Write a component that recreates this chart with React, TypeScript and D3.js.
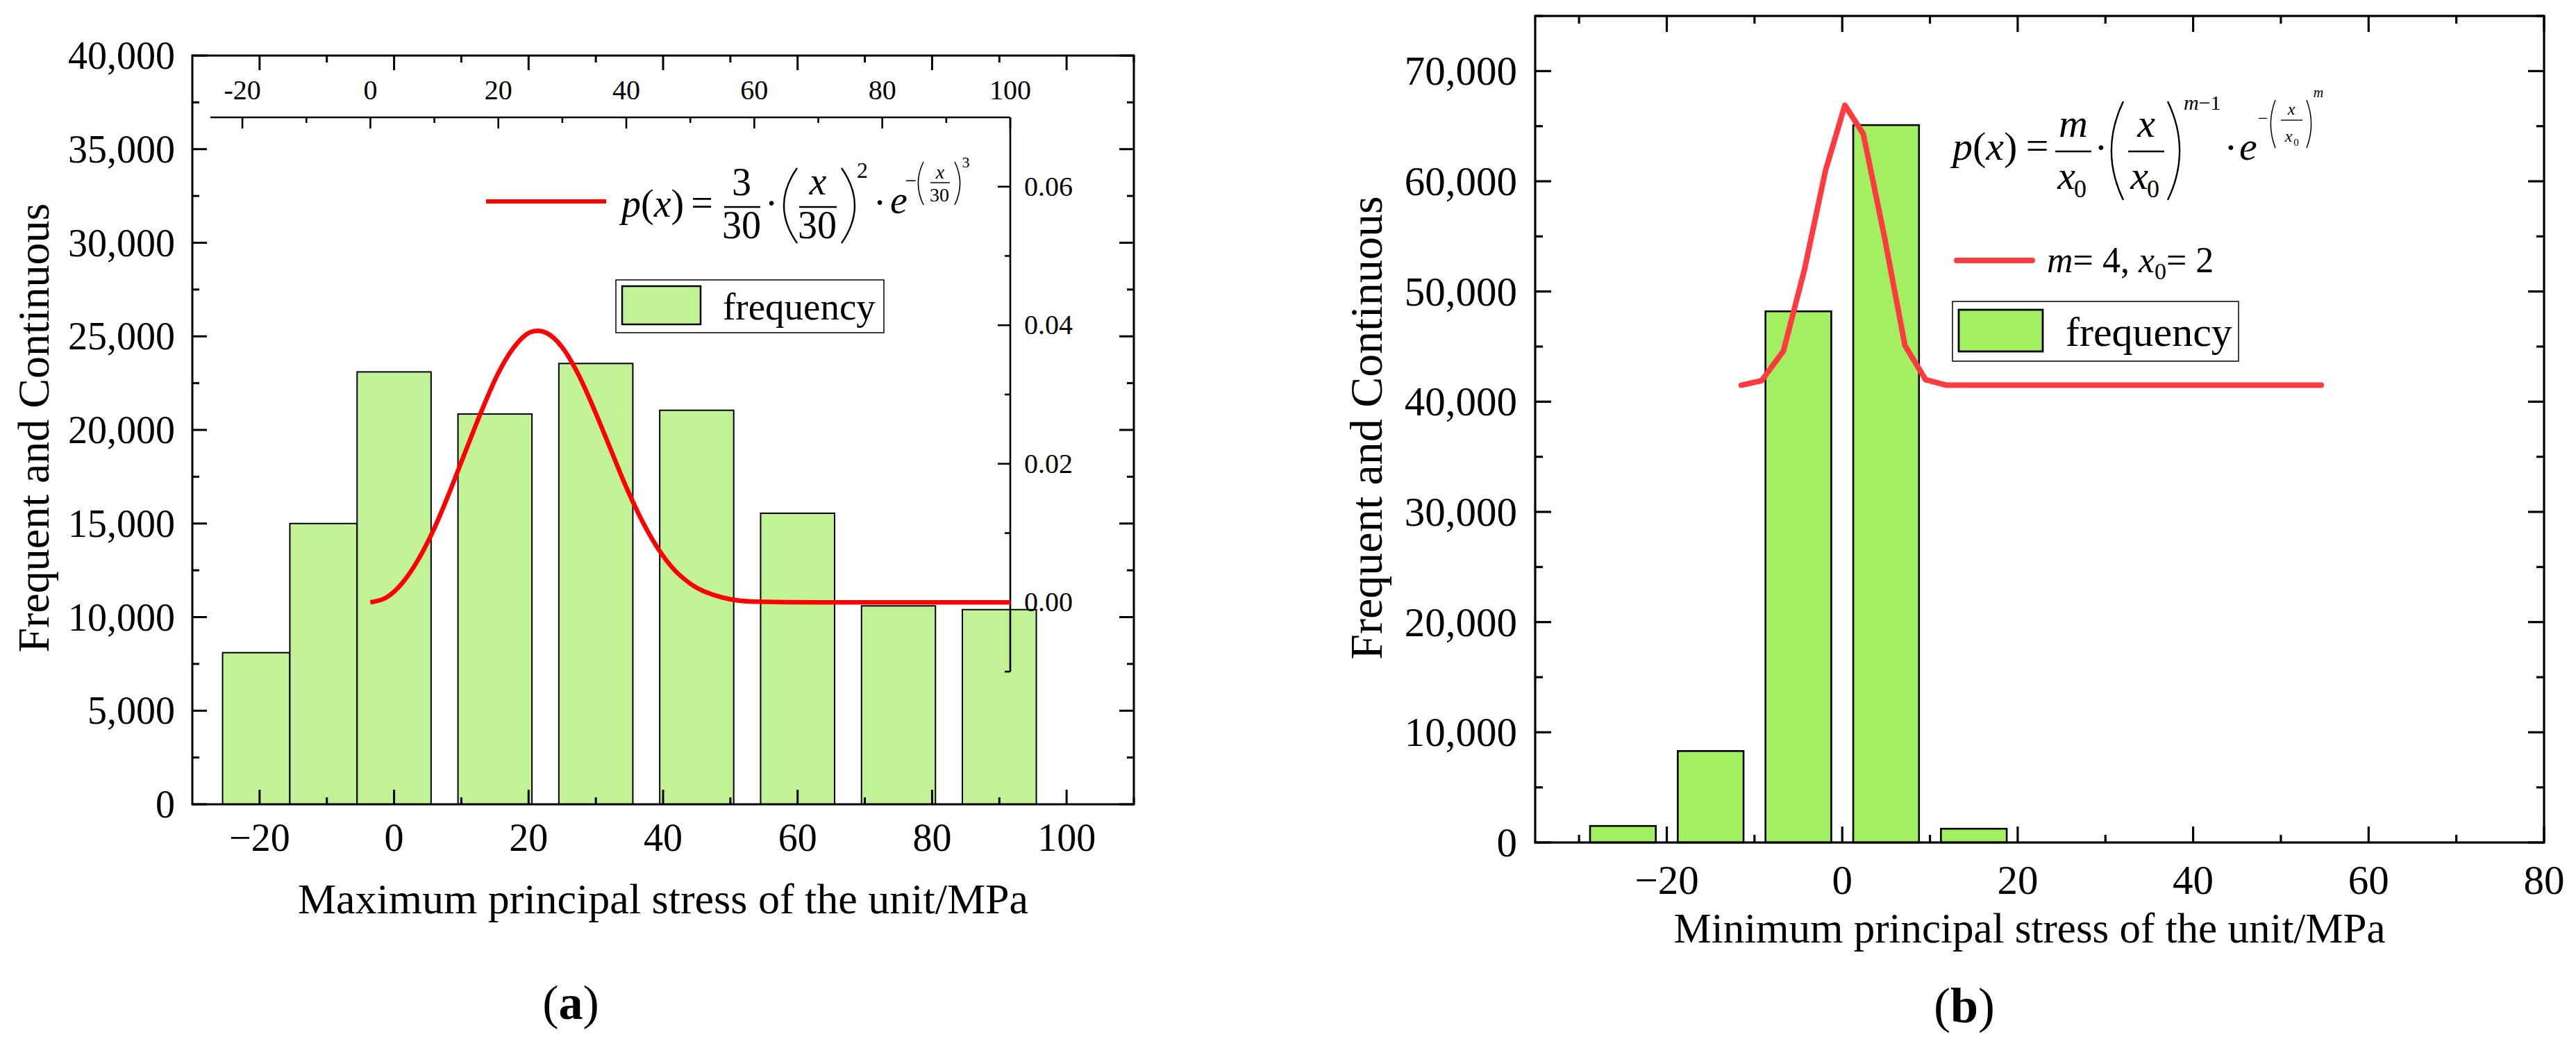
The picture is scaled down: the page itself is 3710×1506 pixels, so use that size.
import React from "react";
import * as d3 from "d3";

// ---------- panel (a): maximum principal stress ----------
const maxBinStart = [-25.5, -15.5, -5.5, 9.5, 24.5, 39.5, 54.5, 69.5, 84.5];
const maxBinEnd = [-15.5, -5.5, 5.5, 20.5, 35.5, 50.5, 65.5, 80.5, 95.5];
const maxFreq = [8100, 15000, 23100, 20850, 23550, 21050, 15550, 10600, 10400];
const maxCurveX = [0, 2.5, 5, 7.5, 10, 12.5, 15, 17.5, 20, 22.5, 25, 26.2, 27.5, 30, 32.5, 35, 37.5, 40, 42.5, 45, 47.5, 50, 55, 60, 70, 80, 90, 100];
const maxCurveP = [0, 0.0007, 0.0028, 0.0062, 0.0107, 0.0162, 0.0221, 0.0279, 0.0331, 0.0369, 0.039, 0.0392, 0.0389, 0.0368, 0.0329, 0.0278, 0.0222, 0.0166, 0.0117, 0.0077, 0.0047, 0.0027, 0.0007, 0.0001, 0, 0, 0, 0];
const maxXTicks = [-20, 0, 20, 40, 60, 80, 100];
const maxYTicks = [0, 5000, 10000, 15000, 20000, 25000, 30000, 35000, 40000];
const maxTopTicks = [-20, 0, 20, 40, 60, 80, 100];
const maxPTicks = [0, 0.02, 0.04, 0.06];

// ---------- panel (b): minimum principal stress ----------
const minBinCenter = [-25, -15, -5, 5, 15];
const minBinWidth = 7.5;
const minFreq = [1500, 8300, 48200, 65100, 1250];
const minCurveX = [-11.5, -9.2, -6.7, -4.3, -1.9, 0.3, 2.4, 4.8, 7.15, 9.5, 11.9, 54.6];
const minCurveY = [41500, 41900, 44600, 52000, 61000, 66900, 64300, 55000, 45100, 42000, 41500, 41500];
const minXTicks = [-20, 0, 20, 40, 60, 80];
const minYTicks = [0, 10000, 20000, 30000, 40000, 50000, 60000, 70000];

const FONT = "'Liberation Serif', 'Times New Roman', serif";
const fmtK = d3.format(",");
const fmtX = d3.format("d");
const fmtP = d3.format(".2f");

const steps = (a: number, b: number, s: number) => d3.range(a, b + s / 1000, s);

// inward ticks on one side of a box
function tickLines(scale: any, values: number[], side: string, pos: number, len: number, w: number) {
  return values.map((v, i) => {
    const p = scale(v);
    let a;
    if (side === "bottom") a = { x1: p, x2: p, y1: pos, y2: pos - len };
    else if (side === "top") a = { x1: p, x2: p, y1: pos, y2: pos + len };
    else if (side === "left") a = { x1: pos, x2: pos + len, y1: p, y2: p };
    else a = { x1: pos, x2: pos - len, y1: p, y2: p };
    return <line key={side + i} {...a} stroke="#000" strokeWidth={w} />;
  });
}

function Paren({ x0, x1, y0, y1, right = false, w = 2.4 }) {
  const mid = (y0 + y1) / 2;
  const d = right
    ? `M${x0},${y0} Q${x1 + (x1 - x0) * 0.9},${mid} ${x0},${y1}`
    : `M${x1},${y0} Q${x0 - (x1 - x0) * 0.9},${mid} ${x1},${y1}`;
  return <path d={d} fill="none" stroke="#000" strokeWidth={w} />;
}

function PanelA() {
  const L = 277, R = 1633, T = 80, B = 1158;
  const x = d3.scaleLinear().domain([-30, 110]).range([L, R]);
  const y = d3.scaleLinear().domain([0, 40000]).range([B, T]);
  const xi = d3.scaleLinear().domain([-25, 100]).range([303, 1455]);
  const yi = d3.scaleLinear().domain([-0.01, 0.07]).range([967, 169]);
  const innerTop = 169, innerRight = 1455;

  const line = d3.line<number>()
    .x((_, i) => xi(maxCurveX[i]))
    .y((p) => yi(p))
    .curve(d3.curveMonotoneX);

  const xMajor = maxXTicks;
  const xMinor = steps(-10, 110, 20);
  const yMinor = steps(2500, 37500, 5000);

  return (
    <g fontFamily={FONT}>
      {maxFreq.map((v, i) => (
        <rect key={i} x={x(maxBinStart[i])} y={y(v)} width={x(maxBinEnd[i]) - x(maxBinStart[i])}
          height={y(0) - y(v)} fill="#c2f296" stroke="#000" strokeWidth={2} />
      ))}

      {/* inner axes for the density curve */}
      <line x1={303} x2={innerRight} y1={innerTop} y2={innerTop} stroke="#000" strokeWidth={2.6} />
      <line x1={innerRight} x2={innerRight} y1={innerTop} y2={967} stroke="#000" strokeWidth={2.6} />
      {tickLines(xi, maxTopTicks, "top", innerTop, 16, 2.6)}
      {tickLines(xi, steps(-10, 90, 20), "top", innerTop, 8, 2.6)}
      {tickLines(yi, maxPTicks, "right", innerRight, 18, 2.6)}
      {tickLines(yi, [-0.01, 0.01, 0.03, 0.05], "right", innerRight, 8, 2.6)}
      {maxTopTicks.map((v) => (
        <text key={"it" + v} x={xi(v)} y={143} fontSize={40} textAnchor="middle">{`${v}`}</text>
      ))}
      {maxPTicks.map((v) => (
        <text key={"ip" + v} x={1475} y={yi(v) + 13} fontSize={40}>{fmtP(v)}</text>
      ))}

      <path d={line(maxCurveP) || ""} fill="none" stroke="#ff0000" strokeWidth={6.5} />

      {/* frame */}
      <rect x={L} y={T} width={R - L} height={B - T} fill="none" stroke="#000" strokeWidth={3} />
      {tickLines(x, xMajor, "bottom", B, 21, 3)}
      {tickLines(x, xMinor, "bottom", B, 10, 3)}
      {tickLines(x, xMajor, "top", T, 21, 3)}
      {tickLines(x, xMinor, "top", T, 10, 3)}
      {tickLines(y, maxYTicks, "left", L, 21, 3)}
      {tickLines(y, yMinor, "left", L, 10, 3)}
      {tickLines(y, maxYTicks, "right", R, 21, 3)}
      {tickLines(y, yMinor, "right", R, 10, 3)}

      {xMajor.map((v) => (
        <text key={"x" + v} x={x(v)} y={1225} fontSize={56} textAnchor="middle">{fmtX(v)}</text>
      ))}
      {maxYTicks.map((v) => (
        <text key={"y" + v} x={252} y={y(v) + 19} fontSize={56} textAnchor="end">{fmtK(v)}</text>
      ))}

      <text x={955} y={1315} fontSize={62} textAnchor="middle">Maximum principal stress of the unit/MPa</text>
      <text transform="translate(70,616) rotate(-90)" fontSize={64} textAnchor="middle">Frequent and Continuous</text>
      <text x={822} y={1467} fontSize={70} textAnchor="middle">(<tspan fontWeight="bold">a</tspan>)</text>

      {/* legend: curve */}
      <line x1={700} x2={873} y1={290} y2={290} stroke="#ff0000" strokeWidth={6} />
      <g fontSize={56}>
        <text x={895} y={312}><tspan fontStyle="italic">p</tspan>(<tspan fontStyle="italic">x</tspan>)</text>
        <text x={1011} y={311} textAnchor="middle">=</text>
        <text x={1068} y={281} textAnchor="middle">3</text>
        <line x1={1043} x2={1095} y1={298} y2={298} stroke="#000" strokeWidth={2.4} />
        <text x={1068} y={343} textAnchor="middle">30</text>
        <text x={1111} y={312} textAnchor="middle">·</text>
        <Paren x0={1128} x1={1148} y0={242} y1={350} />
        <text x={1178} y={280} textAnchor="middle" fontStyle="italic">x</text>
        <line x1={1151} x2={1205} y1={298} y2={298} stroke="#000" strokeWidth={2.4} />
        <text x={1177} y={343} textAnchor="middle">30</text>
        <Paren x0={1212} x1={1232} y0={242} y1={350} right />
        <text x={1242} y={256} fontSize={32} textAnchor="middle">2</text>
        <text x={1267} y={311} textAnchor="middle">·</text>
        <text x={1282} y={307} fontStyle="italic">e</text>
        <text x={1312} y={270} fontSize={30} textAnchor="middle">−</text>
        <Paren x0={1322} x1={1330} y0={233} y1={295} w={1.6} />
        <text x={1354} y={257} fontSize={28} textAnchor="middle" fontStyle="italic">x</text>
        <line x1={1340} x2={1368} y1={263} y2={263} stroke="#000" strokeWidth={1.5} />
        <text x={1353} y={290} fontSize={28} textAnchor="middle">30</text>
        <Paren x0={1375} x1={1383} y0={233} y1={295} right w={1.6} />
        <text x={1391} y={241} fontSize={22} textAnchor="middle">3</text>
      </g>

      {/* legend: bars */}
      <rect x={887} y={403} width={386} height={76} fill="#fff" stroke="#000" strokeWidth={1.5} />
      <rect x={896} y={412} width={113} height={55} fill="#c2f296" stroke="#000" strokeWidth={2.5} />
      <text x={1041} y={460} fontSize={55}>frequency</text>
    </g>
  );
}

function PanelB() {
  const L = 2211, R = 3664, T = 23, B = 1213;
  const x = d3.scaleLinear().domain([-35, 80]).range([L, R]);
  const y = d3.scaleLinear().domain([0, 75000]).range([B, T]);

  const line = d3.line<number>()
    .x((_, i) => x(minCurveX[i]))
    .y((v) => y(v));

  const xMinor = steps(-30, 70, 20);
  const yMinor = steps(5000, 75000, 10000);

  return (
    <g fontFamily={FONT}>
      {minFreq.map((v, i) => (
        <rect key={i} x={x(minBinCenter[i] - minBinWidth / 2)} y={y(v)}
          width={x(minBinCenter[i] + minBinWidth / 2) - x(minBinCenter[i] - minBinWidth / 2)}
          height={y(0) - y(v)} fill="#a3ef62" stroke="#000" strokeWidth={2.6} />
      ))}

      <path d={line(minCurveY) || ""} fill="none" stroke="#ff3b3f" strokeWidth={8} strokeLinejoin="round" strokeLinecap="round" />

      <rect x={L} y={T} width={R - L} height={B - T} fill="none" stroke="#000" strokeWidth={3.2} />
      {tickLines(x, minXTicks, "bottom", B, 23, 3.2)}
      {tickLines(x, xMinor, "bottom", B, 11, 3.2)}
      {tickLines(x, minXTicks, "top", T, 23, 3.2)}
      {tickLines(x, xMinor, "top", T, 11, 3.2)}
      {tickLines(y, minYTicks, "left", L, 23, 3.2)}
      {tickLines(y, yMinor, "left", L, 11, 3.2)}
      {tickLines(y, minYTicks, "right", R, 23, 3.2)}
      {tickLines(y, yMinor, "right", R, 11, 3.2)}

      {minXTicks.map((v) => (
        <text key={"x" + v} x={x(v)} y={1287} fontSize={59} textAnchor="middle">{fmtX(v)}</text>
      ))}
      {minYTicks.map((v) => (
        <text key={"y" + v} x={2185} y={y(v) + 20} fontSize={59} textAnchor="end">{fmtK(v)}</text>
      ))}

      <text x={2923} y={1357} fontSize={61} textAnchor="middle">Minimum principal stress of the unit/MPa</text>
      <text transform="translate(1990,616) rotate(-90)" fontSize={66} textAnchor="middle">Frequent and Continuous</text>
      <text x={2829} y={1472} fontSize={72} textAnchor="middle">(<tspan fontWeight="bold">b</tspan>)</text>

      {/* formula */}
      <g fontSize={58}>
        <text x={2812} y={230}><tspan fontStyle="italic">p</tspan>(<tspan fontStyle="italic">x</tspan>)</text>
        <text x={2934} y={229} textAnchor="middle">=</text>
        <text x={2986} y={197} textAnchor="middle" fontStyle="italic">m</text>
        <line x1={2960} x2={3012} y1={218} y2={218} stroke="#000" strokeWidth={2.4} />
        <text x={2976} y={272} textAnchor="middle" fontStyle="italic">x</text>
        <text x={2996} y={284} fontSize={36} textAnchor="middle">0</text>
        <text x={3026} y={232} textAnchor="middle">·</text>
        <Paren x0={3040} x1={3058} y0={146} y1={288} />
        <text x={3091} y={197} textAnchor="middle" fontStyle="italic">x</text>
        <line x1={3065} x2={3117} y1={218} y2={218} stroke="#000" strokeWidth={2.4} />
        <text x={3081} y={272} textAnchor="middle" fontStyle="italic">x</text>
        <text x={3101} y={284} fontSize={36} textAnchor="middle">0</text>
        <Paren x0={3122} x1={3140} y0={146} y1={288} right />
        <text x={3145} y={158} fontSize={30}><tspan fontStyle="italic">m</tspan>−1</text>
        <text x={3213} y={232} textAnchor="middle">·</text>
        <text x={3225} y={230} fontStyle="italic">e</text>
        <text x={3259} y={179} fontSize={26} textAnchor="middle">−</text>
        <Paren x0={3270} x1={3277} y0={144} y1={213} w={1.5} />
        <text x={3300} y={165} fontSize={24} textAnchor="middle" fontStyle="italic">x</text>
        <line x1={3285} x2={3316} y1={173} y2={173} stroke="#000" strokeWidth={1.4} />
        <text x={3296} y={204} fontSize={24} textAnchor="middle" fontStyle="italic">x</text>
        <text x={3307} y={210} fontSize={15} textAnchor="middle">0</text>
        <Paren x0={3322} x1={3329} y0={144} y1={213} right w={1.5} />
        <text x={3339} y={140} fontSize={20} textAnchor="middle" fontStyle="italic">m</text>
      </g>

      {/* legend: curve */}
      <line x1={2818} x2={2927} y1={375} y2={375} stroke="#ff3b3f" strokeWidth={8} strokeLinecap="round" />
      <text x={2948} y={392} fontSize={52}>
        <tspan fontStyle="italic">m</tspan>= 4, <tspan fontStyle="italic">x</tspan>
        <tspan fontSize={34} dy={10}>0</tspan><tspan dy={-10}>= 2</tspan>
      </text>

      {/* legend: bars */}
      <rect x={2812} y={434} width={412} height={86} fill="#fff" stroke="#000" strokeWidth={1.5} />
      <rect x={2821} y={446} width={121} height={60} fill="#a3ef62" stroke="#000" strokeWidth={2.8} />
      <text x={2975} y={498} fontSize={60}>frequency</text>
    </g>
  );
}

export default function App() {
  return (
    <svg width={3710} height={1506} viewBox="0 0 3710 1506"
      style={{ position: "absolute", left: 0, top: 0, background: "#fff" }}>
      <rect width={3710} height={1506} fill="#fff" />
      <PanelA />
      <PanelB />
    </svg>
  );
}
